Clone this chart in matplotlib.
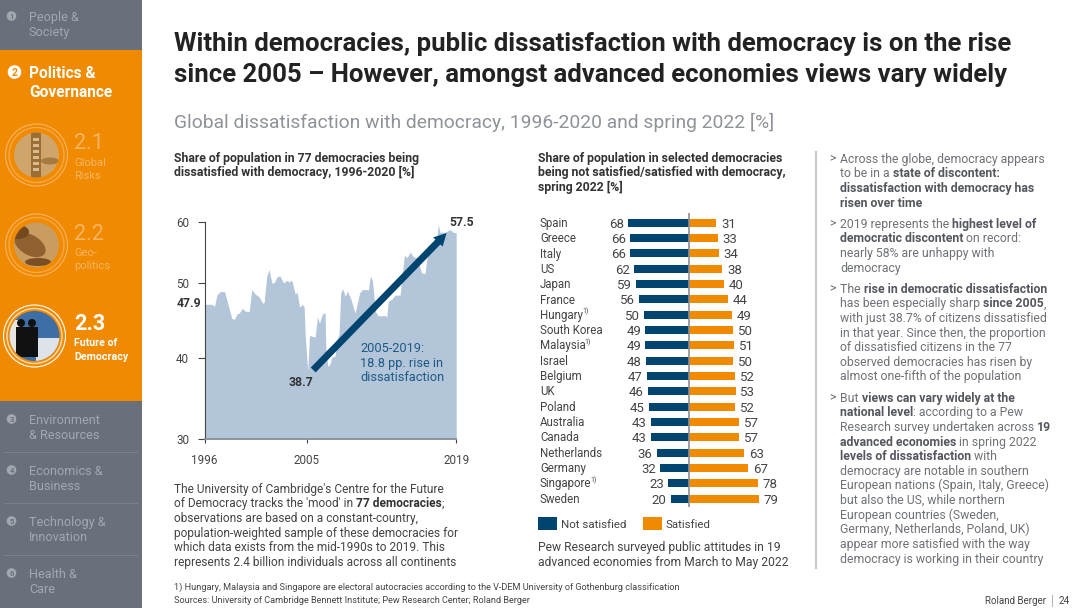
#!/usr/bin/env python3
"""Dissatisfaction with democracy slide: area chart, diverging bars, sidebar and text"""

import matplotlib
matplotlib.use('Agg')
import matplotlib.pyplot as plt
from matplotlib.patches import Rectangle, Circle, Ellipse
import numpy as np

plt.rcParams['font.family'] = ['Roboto', 'DejaVu Sans']

# area chart data
years = [1996.00, 1996.65, 1996.88, 1997.09, 1997.38, 1997.76, 1998.05, 1998.40, 1998.64, 1998.87,
         1999.05, 1999.34, 1999.58, 1999.93, 2000.16, 2000.46, 2000.75, 2001.13, 2001.25, 2001.48,
         2001.69, 2001.92, 2002.13, 2002.42, 2002.66, 2002.95, 2003.24, 2003.42, 2003.68, 2003.98,
         2004.15, 2004.36, 2004.62, 2004.77, 2004.85, 2005.09, 2005.25, 2005.53, 2005.78, 2006.00,
         2006.18, 2006.47, 2006.71, 2006.78, 2006.96, 2007.18, 2007.34, 2007.65, 2007.81, 2008.02,
         2008.18, 2008.37, 2008.59, 2008.81, 2009.12, 2009.52, 2009.96, 2010.21, 2010.62, 2010.77,
         2010.96, 2011.14, 2011.45, 2011.70, 2012.02, 2012.33, 2012.49, 2012.64, 2012.96, 2013.27,
         2013.74, 2014.14, 2014.39, 2014.70, 2014.98, 2015.29, 2015.76, 2016.07, 2016.32, 2016.70,
         2017.16, 2017.32, 2017.47, 2017.94, 2018.41, 2018.72, 2019.00]
dissatisfied = [47.9, 47.9, 47.6, 48.8, 49.15, 49.15, 47.97, 45.8, 45.7, 46.5,
                46.6, 47.3, 46.9, 46.8, 49.35, 48.9, 48.7, 48.0, 48.1, 51.1,
                52.0, 50.0, 50.05, 51.0, 51.0, 50.0, 50.4, 50.15, 50.4, 48.9,
                49.1, 47.5, 47.85, 47.5, 43.55, 38.7, 43.3, 43.15, 43.05, 46.1,
                45.1, 46.5, 46.6, 41.6, 39.15, 39.4, 40.1, 40.2, 42.55, 43.5,
                49.0, 49.45, 48.7, 49.2, 48.45, 46.6, 49.05, 49.35, 49.35, 49.3,
                51.05, 50.4, 46.75, 46.2, 46.2, 46.25, 46.0, 48.2, 48.4, 48.8,
                48.8, 54.1, 53.8, 54.6, 53.9, 53.8, 51.5, 51.4, 54.35, 55.35,
                56.35, 59.45, 57.6, 57.6, 58.2, 57.6, 57.5]
y_ticks = [30, 40, 50, 60]
x_ticks = [1996, 2005, 2019]

# the slide's axes are not evenly spaced, these anchors reproduce its scale
y_scale_values = [30, 38.7, 40, 47.9, 50, 57.5, 60]
y_scale_pos = [0, 68, 81.3, 134.7, 156, 206.3, 217]
x_scale_values = [1996, 2005, 2019]
x_scale_pos = [0, 102.3, 251.7]

# bar chart data
countries = ['Spain', 'Greece', 'Italy', 'US', 'Japan', 'France', 'Hungary', 'South Korea', 'Malaysia', 'Israel',
             'Belgium', 'UK', 'Poland', 'Australia', 'Canada', 'Netherlands', 'Germany', 'Singapore', 'Sweden']
not_satisfied = [68, 66, 66, 62, 59, 56, 50, 49, 49, 48, 47, 46, 45, 43, 43, 36, 32, 23, 20]
satisfied = [31, 33, 34, 38, 40, 44, 49, 50, 51, 50, 52, 53, 52, 57, 57, 63, 67, 78, 79]
footnoted = ['Hungary', 'Malaysia', 'Singapore']

NAVY = '#004570'
ORANGE = '#F08A00'
AREA = '#B3C5D8'
SIDE_GRAY = '#69707C'
SIDE_TEXT = '#A3A8B0'
PALE = '#F7B565'
DARK = '#333333'
BODY = '#6E7177'
BODY_BOLD = '#54575E'

fig = plt.figure(figsize=(10.8, 6.08), dpi=100, facecolor='white')
renderer = fig.canvas.get_renderer()

# page overlay in pixel coordinates
page = fig.add_axes([0, 0, 1, 1], zorder=5)
page.set_xlim(0, 1080)
page.set_ylim(608, 0)
page.axis('off')


def put(x, y, s, size, color=DARK, bold=False, ha='left'):
    """Text with y as the centre of its x-height line"""
    return page.text(x, y + 0.36 * size * 100 / 72, s, fontsize=size, color=color, ha=ha, va='baseline',
                     fontweight='bold' if bold else 'normal')


def text_width(s, size, bold=False):
    t = page.text(0, 0, s + '.', fontsize=size, fontweight='bold' if bold else 'normal')
    w = t.get_window_extent(renderer).width
    t.set_text('.')
    w -= t.get_window_extent(renderer).width
    t.remove()
    return w


def rich(x, y, parts, size, color=BODY, bold_color=BODY_BOLD):
    """One line made of (text, is_bold) pieces"""
    for s, is_bold in parts:
        put(x, y, s, size, bold_color if is_bold else color, is_bold)
        x += text_width(s, size, is_bold)


# sidebar
page.add_patch(Rectangle((0, 0), 142, 50, fc=SIDE_GRAY, lw=0))
page.add_patch(Rectangle((0, 50), 142, 351, fc=ORANGE, lw=0))
page.add_patch(Rectangle((0, 401), 142, 207, fc=SIDE_GRAY, lw=0))
for y in [451.5, 503, 554.5]:
    page.plot([4, 137], [y, y], color='#7C828D', lw=0.7)

side_items = [(1, 16, 'People &', 'Society'), (3, 419, 'Environment', '& Resources'),
              (4, 470, 'Economics &', 'Business'), (5, 521, 'Technology &', 'Innovation'),
              (6, 573, 'Health &', 'Care')]
for num, y, line1, line2 in side_items:
    page.add_patch(Circle((11.5, y), 4.8, fc=SIDE_TEXT, lw=0))
    put(11.5, y, str(num), 5.5, SIDE_GRAY, True, ha='center')
    put(29, y, line1, 9.1, SIDE_TEXT)
    put(29, y + 15, line2, 9.1, SIDE_TEXT)

page.add_patch(Circle((14.5, 72), 6.8, fc='white', lw=0))
put(14.5, 72, '2', 7.5, ORANGE, True, ha='center')
put(29, 72, 'Politics &', 11.2, 'white', True)
put(29, 91, 'Governance', 11.2, 'white', True)


def badge(cx, cy, r, face, ring, ring_r):
    disc = Circle((cx, cy), r, fc=face, lw=0)
    page.add_patch(disc)
    page.add_patch(Circle((cx, cy), ring_r, fc='none', ec=ring, lw=0.8))
    page.add_patch(Circle((cx, cy), ring_r - 3.5, fc='none', ec=ring, lw=1.0, alpha=0.7))
    return disc


def clipped(patch, disc):
    page.add_patch(patch)
    patch.set_clip_path(disc)


disc = badge(36.5, 155, 22.5, '#CFA56B', '#F7B565', 31)
clipped(Rectangle((31, 130), 10, 50, fc='#9A6E35', lw=0), disc)
for y in [138, 144, 150, 156, 162, 168]:
    clipped(Rectangle((33, y), 6, 3, fc='#D9BC8E', lw=0), disc)
clipped(Ellipse((50, 161), 18, 7, fc='#A77A40', lw=0), disc)

disc = badge(36.5, 245, 22.5, '#C99C60', '#F7B565', 31)
clipped(Ellipse((30, 245), 34, 20, angle=30, fc='#8F6030', lw=0), disc)
clipped(Ellipse((18, 232), 22, 14, fc='#74491F', lw=0), disc)
clipped(Ellipse((38, 262), 26, 8, fc='#7A4F24', lw=0), disc)

disc = badge(34.5, 336, 25, '#3D6FA6', 'white', 31)
clipped(Rectangle((36, 338), 24, 25, fc='#DDE3E8', lw=0), disc)
clipped(Rectangle((8, 320), 13, 45, fc='#E7E7E2', lw=0), disc)
for cx in [21, 32]:
    clipped(Ellipse((cx, 323), 8, 8, fc='#111111', lw=0), disc)
    clipped(Rectangle((cx - 5.5, 327), 11, 30, fc='#111111', lw=0), disc)

put(74, 141, '2.1', 15.6, PALE)
put(74, 162, 'Global', 8, PALE)
put(74, 175, 'Risks', 8, PALE)
put(74, 232, '2.2', 15.6, PALE)
put(74, 252, 'Geo-', 8, PALE)
put(74, 265, 'politics', 8, PALE)
put(74, 322, '2.3', 15.6, 'white', True)
put(74, 342, 'Future of', 7.7, 'white', True)
put(74, 356, 'Democracy', 7.7, 'white', True)

# headline and chart headers
put(174, 42, 'Within democracies, public dissatisfaction with democracy is on the rise', 18.5, '#222222', True)
put(174, 73, 'since 2005 – However, amongst advanced economies views vary widely', 18.5, '#222222', True)
put(174, 121, 'Global dissatisfaction with democracy, 1996-2020 and spring 2022 [%]', 13.9, '#8E9299')

put(174, 158, 'Share of population in 77 democracies being', 8.85, DARK, True)
put(174, 172, 'dissatisfied with democracy, 1996-2020 [%]', 8.85, DARK, True)
put(538, 158, 'Share of population in selected democracies', 8.85, DARK, True)
put(538, 172, 'being not satisfied/satisfied with democracy,', 8.85, DARK, True)
put(538, 187, 'spring 2022 [%]', 8.85, DARK, True)

# area chart
ax = fig.add_axes([204.5 / 1080, 1 - 439 / 608, 251.7 / 1080, 217 / 608], zorder=2)
ax.patch.set_alpha(0)
ax.set_yscale('function', functions=(lambda v: np.interp(v, y_scale_values, y_scale_pos),
                                     lambda p: np.interp(p, y_scale_pos, y_scale_values)))
ax.set_xscale('function', functions=(lambda v: np.interp(v, x_scale_values, x_scale_pos),
                                     lambda p: np.interp(p, x_scale_pos, x_scale_values)))
ax.fill_between(years, dissatisfied, 30, color=AREA, lw=0)
ax.set_xlim(1996, 2019)
ax.set_ylim(30, 60)
ax.set_xticks(x_ticks)
ax.set_yticks(y_ticks)
ax.minorticks_off()
ax.tick_params(axis='y', length=5, width=0.8, pad=6, labelsize=8.4, color='#444444', labelcolor='#444444')
ax.tick_params(axis='x', length=3, width=0.8, pad=8, labelsize=8.4, color='#444444', labelcolor='#444444')
ax.spines['top'].set_visible(False)
ax.spines['right'].set_visible(False)
ax.spines['left'].set_color('#444444')
ax.spines['left'].set_linewidth(0.8)
ax.spines['bottom'].set_color('#8A8F96')
ax.spines['bottom'].set_linewidth(1.3)
ax.annotate('', xy=(2018.1, 57.45), xytext=(2005.6, 38.8), annotation_clip=False,
            arrowprops=dict(arrowstyle='simple,head_length=0.9,head_width=0.95,tail_width=0.5',
                            mutation_scale=10, color=NAVY, lw=0, shrinkA=0, shrinkB=0))

put(201, 303, '47.9', 8.8, DARK, True, ha='right')
put(301, 381.5, '38.7', 8.8, DARK, True, ha='center')
put(449, 222, '57.5', 8.8, DARK, True)
for y, s in zip([347, 362, 376], ['2005-2019:', '18.8 pp. rise in', 'dissatisfaction']):
    put(360, y, s, 9.2, '#1D5A86')

left_lines = [[('The University of Cambridge\'s Centre for the Future', False)],
              [('of Democracy tracks the \'mood\' in ', False), ('77 democracies', True), (';', False)],
              [('observations are based on a constant-country,', False)],
              [('population-weighted sample of these democracies for', False)],
              [('which data exists from the mid-1990s to 2019. This', False)],
              [('represents 2.4 billion individuals across all continents', False)]]
for i, parts in enumerate(left_lines):
    rich(174, 488.5 + i * 14.6, parts, 8.6, '#444444', '#333333')

# bar chart
row_h = 15.33
bars = fig.add_axes([540 / 1080, 1 - 507 / 608, 246 / 1080, 294 / 608], zorder=2)
bars.axis('off')
bars.set_xlim(-168, 110)
bars.set_ylim(18 + (507 - 498.7) / row_h, -(222.7 - 213) / row_h)
pos = np.arange(len(countries))
bars.barh(pos, [-v for v in not_satisfied], height=0.53, color=NAVY, lw=0)
bars.barh(pos, satisfied, height=0.53, color=ORANGE, lw=0)
bars.axvline(0, color='#8A8F96', lw=1.2)
for i, name in enumerate(countries):
    y = 222.7 + i * row_h
    put(540, y, name, 8.3, '#444444')
    if name in footnoted:
        put(540 + text_width(name, 8.3) - 1, y - 4, '1)', 5, '#444444')
    bars.annotate(str(not_satisfied[i]), (-not_satisfied[i], i), xytext=(-3, 0), textcoords='offset points',
                  ha='right', va='center_baseline', fontsize=9.5, color='#444444')
    bars.annotate(str(satisfied[i]), (satisfied[i], i), xytext=(3.5, 0), textcoords='offset points',
                  ha='left', va='center_baseline', fontsize=9.5, color='#444444')

page.add_patch(Rectangle((538, 517), 19, 13, fc=NAVY, lw=0))
page.add_patch(Rectangle((643, 517), 19, 13, fc=ORANGE, lw=0))
put(561, 523.5, 'Not satisfied', 8.25, '#444444')
put(666, 523.5, 'Satisfied', 8.25, '#444444')
put(538, 546.5, 'Pew Research surveyed public attitudes in 19', 8.75, '#444444')
put(538, 561.5, 'advanced economies from March to May 2022', 8.75, '#444444')

# right column
page.plot([815.5, 815.5], [152, 568], color='#C9C9C9', lw=1.6)
bullets = [
    [[('Across the globe, democracy appears', False)],
     [('to be in a ', False), ('state of discontent:', True)],
     [('dissatisfaction with democracy has', True)],
     [('risen over time', True)]],
    [[('2019 represents the ', False), ('highest level of', True)],
     [('democratic discontent', True), (' on record:', False)],
     [('nearly 58% are unhappy with', False)],
     [('democracy', False)]],
    [[('The ', False), ('rise in democratic dissatisfaction', True)],
     [('has been especially sharp ', False), ('since 2005', True), (',', False)],
     [('with just 38.7% of citizens dissatisfied', False)],
     [('in that year. Since then, the proportion', False)],
     [('of dissatisfied citizens in the 77', False)],
     [('observed democracies has risen by', False)],
     [('almost one-fifth of the population', False)]],
    [[('But ', False), ('views can vary widely at the', True)],
     [('national level', True), (': according to a Pew', False)],
     [('Research survey undertaken across ', False), ('19', True)],
     [('advanced economies', True), (' in spring 2022', False)],
     [('levels of dissatisfaction', True), (' with', False)],
     [('democracy are notable in southern', False)],
     [('European nations (Spain, Italy, Greece)', False)],
     [('but also the US, while northern', False)],
     [('European countries (Sweden,', False)],
     [('Germany, Netherlands, Poland, UK)', False)],
     [('appear more satisfied with the way', False)],
     [('democracy is working in their country', False)]],
]
for start, lines in zip([158.3, 223.3, 288.3, 397.3], bullets):
    put(829, start, '>', 8.8, BODY)
    for i, parts in enumerate(lines):
        rich(840, start + i * 14.62, parts, 8.8)

# footer
put(174, 587, '1) Hungary, Malaysia and Singapore are electoral autocracies according to the V-DEM University of Gothenburg classification', 6.6, '#444444')
put(174, 600, 'Sources: University of Cambridge Bennett Institute; Pew Research Center; Roland Berger', 6.6, '#444444')
put(985, 600.5, 'Roland Berger', 7, '#444444')
page.plot([1052, 1052], [595, 606], color='#B0B0B0', lw=0.7)
put(1059, 600.5, '24', 7.2, '#444444')

fig.savefig('out.png', dpi=100)
